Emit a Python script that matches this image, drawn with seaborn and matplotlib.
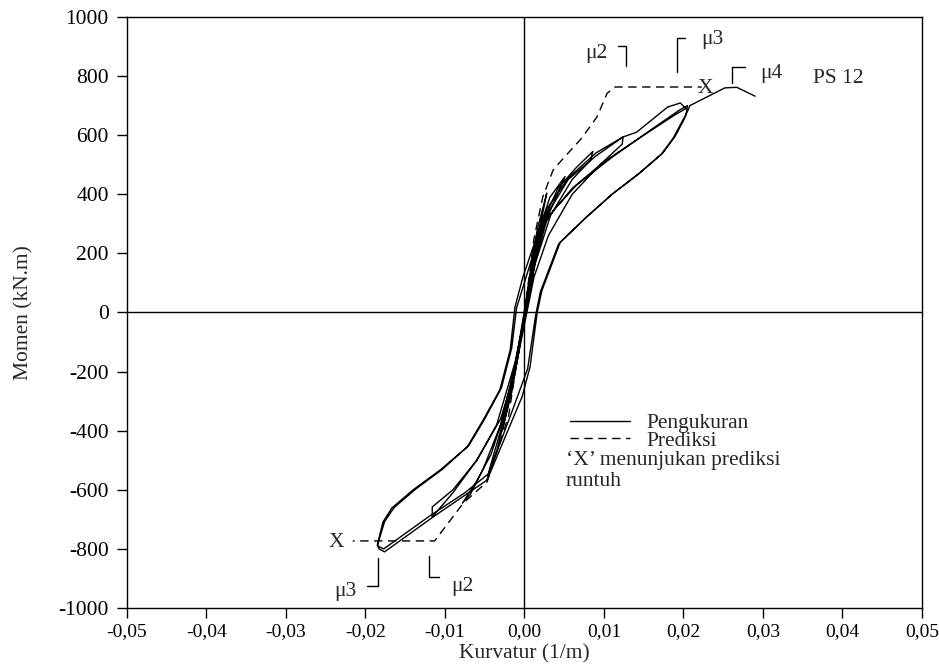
import numpy as np
import pandas as pd
import seaborn as sns
import matplotlib
matplotlib.use("Agg")
import matplotlib.pyplot as plt
from matplotlib.lines import Line2D

# ---------------- data ----------------
# measured hysteresis path (curvature 1/m, moment kN.m), traced in order
meas_x = [0, 0.0008, 0.0016, 0.0028, 0.0024, 0.0012, 0.0003, -0.0007, -0.0016, -0.0028, -0.0024, -0.0013, -0.0003,
          0.0007, 0.0017, 0.0032, 0.0051, 0.0046, 0.003, 0.0013, 0.0002, -0.0009, -0.0022, -0.0034, -0.0047, -0.0044, -0.003, -0.0015, 0.0,
          0.0009, 0.0022, 0.0042, 0.0065, 0.0086, 0.0083, 0.006, 0.0033, 0.0014, 0.0002, -0.001, -0.0025, -0.0042, -0.006, -0.0078, -0.0068, -0.0052, -0.003, -0.0012, 0.0003,
          0.0012, 0.0028, 0.0055, 0.009, 0.0124, 0.0123, 0.0095, 0.006, 0.003, 0.0012, 0.0, -0.0012, -0.003, -0.006, -0.009, -0.0116, -0.0116, -0.009, -0.006, -0.0035, -0.0012, 0.0005,
          0.0015, 0.0028, 0.0055, 0.009, 0.0124, 0.0141, 0.018, 0.0196, 0.0203,
          0.019, 0.015, 0.01, 0.006, 0.0035, 0.0023, 0.0011, -0.0002, -0.0012, -0.0018, -0.0031, -0.0052, -0.0072, -0.0106, -0.014, -0.0167, -0.0178, -0.0185, -0.0183, -0.0176,
          -0.0115, -0.0047, -0.0003, 0.0007, 0.0016, 0.0022, 0.0045, 0.0078, 0.0112, 0.0145, 0.0174, 0.0189, 0.0199, 0.0203, 0.0205,
          0.0195, 0.016, 0.011, 0.0065, 0.0038, 0.0025, 0.0013, 0.0001, -0.001, -0.0016, -0.0029, -0.005, -0.007, -0.0103, -0.0137, -0.0164, -0.0176, -0.0183, -0.0185, -0.0177,
          -0.012, -0.0075, -0.0045, -0.0015, 0.0004, 0.0014, 0.002, 0.0043, 0.0076, 0.011, 0.0143, 0.0172, 0.0187, 0.0197, 0.0205,
          0.0208, 0.0252, 0.0267, 0.029]
meas_y = [0, 150, 280, 404, 350, 200, 40, -130, -270, -400, -350, -200, -40,
          120, 270, 390, 460, 430, 330, 170, 20, -160, -330, -460, -567, -530, -400, -220, -10,
          150, 300, 420, 490, 545, 515, 450, 330, 170, 20, -160, -340, -480, -570, -645, -615, -530, -380, -180, 20,
          170, 330, 450, 530, 594, 570, 500, 400, 260, 120, -40, -200, -360, -500, -610, -692, -658, -600, -500, -380, -170, 40,
          200, 350, 455, 540, 594, 610, 695, 709, 690,
          670, 600, 510, 420, 340, 313, 222, 120, 18, -127, -262, -364, -455, -533, -600, -662, -709, -785, -800, -810,
          -692, -567, -285, -184, 0, 75, 238, 323, 404, 472, 540, 594, 644, 667, 700,
          685, 620, 525, 430, 350, 300, 215, 110, 15, -120, -255, -360, -450, -530, -598, -660, -708, -770, -790, -800,
          -690, -610, -545, -330, -190, -10, 70, 232, 318, 400, 468, 535, 590, 640, 680,
          700, 760, 762, 732]

# prediction (dashed)
pred_pos_x = [0, 0.0012, 0.0023, 0.0036, 0.0047, 0.0072, 0.0091, 0.0104, 0.0114, 0.0223]
pred_pos_y = [0, 250, 391, 482, 516, 590, 661, 742, 763, 763]
pred_neg_x = [0, -0.002, -0.0047, -0.0077, -0.0113, -0.0216]
pred_neg_y = [0, -350, -573, -645, -773, -773]

x_ticks = [-0.05, -0.04, -0.03, -0.02, -0.01, 0.0, 0.01, 0.02, 0.03, 0.04, 0.05]
x_tick_labels = ["-0,05", "-0,04", "-0,03", "-0,02", "-0,01", "0,00", "0,01", "0,02", "0,03", "0,04", "0,05"]
y_ticks = [-1000, -800, -600, -400, -200, 0, 200, 400, 600, 800, 1000]
y_tick_labels = ["-1000", "-800", "-600", "-400", "-200", "0", "200", "400", "600", "800", "1000"]

# ---------------- plot ----------------
sns.set_theme(style="white")
plt.rcParams["font.family"] = ["Liberation Serif", "DejaVu Serif"]
plt.rcParams["axes.unicode_minus"] = False

FS = 15.5
fig = plt.figure(figsize=(9.39, 6.68), dpi=100)
ax = fig.add_axes([0.1352, 0.0898, 0.9819 - 0.1352, 0.9746 - 0.0898])

ax.axhline(0, color="black", lw=1.0, zorder=1)
ax.axvline(0, color="black", lw=1.0, zorder=1)

meas = pd.DataFrame({"x": meas_x, "y": meas_y})
sns.lineplot(data=meas, x="x", y="y", sort=False, estimator=None, color="black", lw=1.0, ax=ax, zorder=3)
pp = pd.DataFrame({"x": pred_pos_x, "y": pred_pos_y})
pn = pd.DataFrame({"x": pred_neg_x, "y": pred_neg_y})
for d in (pp, pn):
    sns.lineplot(data=d, x="x", y="y", sort=False, estimator=None, color="black", lw=1.0,
                 ax=ax, zorder=2, linestyle=(0, (6, 4)))

# collapse markers
ax.text(0.0227, 757, "X", fontsize=FS, ha="center", va="center")
ax.text(-0.0237, -780, "X", fontsize=FS, ha="center", va="center")

# ductility brackets
bk = dict(color="black", lw=1.0)
ax.plot([0.0118, 0.0128, 0.0128], [901, 901, 834], **bk)
ax.text(0.0091, 875, "μ2", fontsize=FS, ha="center", va="center")
ax.plot([0.0202, 0.0192, 0.0192], [929, 929, 814], **bk)
ax.text(0.0236, 923, "μ3", fontsize=FS, ha="center", va="center")
ax.plot([0.0277, 0.0261, 0.0261], [831, 831, 776], **bk)
ax.text(0.031, 808, "μ4", fontsize=FS, ha="center", va="center")
ax.plot([-0.0198, -0.0184, -0.0184], [-925, -925, -830], **bk)
ax.text(-0.0225, -945, "μ3", fontsize=FS, ha="center", va="center")
ax.plot([-0.0120, -0.0120, -0.0108], [-824, -895, -895], **bk)
ax.text(-0.0078, -928, "μ2", fontsize=FS, ha="center", va="center")

ax.text(0.0395, 791, "PS 12", fontsize=FS, ha="center", va="center")

# legend
handles = [Line2D([], [], color="black", lw=1.0),
           Line2D([], [], color="black", lw=1.0, linestyle=(0, (6, 4)))]
leg = ax.legend(handles, ["Pengukuran", "Prediksi"], loc="upper left",
                bbox_to_anchor=(0.557, 0.33), frameon=False, fontsize=FS,
                handlelength=2.8, handletextpad=0.75, labelspacing=-0.12, borderpad=0, borderaxespad=0)
ax.text(0.0052, -500, "\u2018X\u2019 menunjukan prediksi", fontsize=FS, ha="left", va="center")
ax.text(0.0052, -572, "runtuh", fontsize=FS, ha="left", va="center")

ax.set_xlim(-0.05, 0.05)
ax.set_ylim(-1000, 1000)
ax.set_xticks(x_ticks)
ax.set_xticklabels(x_tick_labels)
ax.set_yticks(y_ticks)
ax.set_yticklabels(y_tick_labels)
ax.tick_params(axis="both", direction="out", length=7, width=1.0, colors="black",
               bottom=True, left=True)
ax.tick_params(axis="y", pad=6, labelsize=FS)
ax.tick_params(axis="x", pad=4, labelsize=14)
for s in ax.spines.values():
    s.set_color("black")
    s.set_linewidth(1.0)
    s.set_visible(True)
ax.set_xlabel("Kurvatur (1/m)", fontsize=FS, labelpad=3)
ax.set_ylabel("Momen (kN.m)", fontsize=FS, labelpad=18)
ax.grid(False)

fig.savefig("out.png", dpi=100)
